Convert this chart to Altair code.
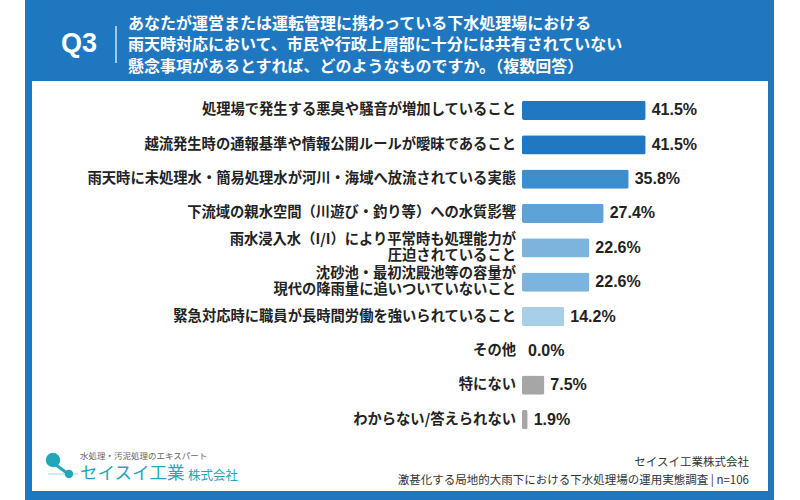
import altair as alt
import pandas as pd

# Survey answers (multiple choice, n=106)
categories = [
    "処理場で発生する悪臭や騒音が増加していること",
    "越流発生時の通報基準や情報公開ルールが曖昧であること",
    "雨天時に未処理水・簡易処理水が河川・海域へ放流されている実態",
    "下流域の親水空間（川遊び・釣り等）への水質影響",
    "雨水浸入水（I/I）により平常時も処理能力が圧迫されていること",
    "沈砂池・最初沈殿池等の容量が現代の降雨量に追いついていないこと",
    "緊急対応時に職員が長時間労働を強いられていること",
    "その他",
    "特にない",
    "わからない/答えられない",
]
labels = [
    "処理場で発生する悪臭や騒音が増加していること",
    "越流発生時の通報基準や情報公開ルールが曖昧であること",
    "雨天時に未処理水・簡易処理水が河川・海域へ放流されている実態",
    "下流域の親水空間（川遊び・釣り等）への水質影響",
    "雨水浸入水（I/I）により平常時も処理能力が\n圧迫されていること",
    "沈砂池・最初沈殿池等の容量が\n現代の降雨量に追いついていないこと",
    "緊急対応時に職員が長時間労働を強いられていること",
    "その他",
    "特にない",
    "わからない/答えられない",
]
values = [41.5, 41.5, 35.8, 27.4, 22.6, 22.6, 14.2, 0.0, 7.5, 1.9]

question = (
    "あなたが運営または運転管理に携わっている下水処理場における\n"
    "雨天時対応において、市民や行政上層部に十分には共有されていない\n"
    "懸念事項があるとすれば、どのようなものですか。（複数回答）"
)
source_company = "セイスイ工業株式会社"
source_survey = "激甚化する局地的大雨下における下水処理場の運用実態調査 | n=106"

# styling
BLUE = "#1f77c0"
TEAL = "#22a6b8"
palette = ["#1f78c1", "#1f78c1", "#3d8ecd", "#5ea3d7", "#7db4de",
           "#7db4de", "#a7cfe8", "#a7cfe8", "#a6a6a6", "#a6a6a6"]
JP = "Noto Sans CJK JP"
LINE_H = 15.5

df = pd.DataFrame({"key": categories, "label": labels, "v": values})
one = alt.Data(values=[{}])

x_scale = alt.Scale(domain=[0, 100], range=[522, 820])
y_scale = alt.Scale(domain=categories, range=[93.3, 436.7],
                    paddingInner=0.44, paddingOuter=0.22)
y_enc = alt.Y("key:N", scale=y_scale, axis=None, sort=categories)

# frame: blue band with a white inner panel
frame = alt.Chart(one).mark_rect(color=BLUE).encode(
    x=alt.value(25), x2=alt.value(774), y=alt.value(0), y2=alt.value(500))
panel = alt.Chart(one).mark_rect(color="white").encode(
    x=alt.value(32), x2=alt.value(768), y=alt.value(81), y2=alt.value(491))

q_mark = alt.Chart(one).mark_text(
    text="Q3", font="Liberation Sans", fontSize=27, fontWeight="bold",
    color="white", align="center", baseline="middle"
).encode(x=alt.value(79), y=alt.value(44))
q_sep = alt.Chart(one).mark_rule(color="white", strokeWidth=1.2).encode(
    x=alt.value(116), y=alt.value(26), y2=alt.value(63))
q_text = alt.Chart(one).mark_text(
    text=question, lineBreak="\n", lineHeight=21.5, font=JP, fontSize=16,
    fontWeight="bold", color="white", align="left", baseline="middle"
).encode(x=alt.value(128), y=alt.value(23.5))

base = alt.Chart(df)
bars = base.mark_bar(cornerRadius=2).encode(
    x=alt.X("v:Q", scale=x_scale, axis=None),
    y=y_enc,
    color=alt.Color("key:N", scale=alt.Scale(domain=categories, range=palette),
                    legend=None),
)

label_style = dict(align="right", baseline="middle", lineBreak="\n",
                   lineHeight=LINE_H, font=JP, fontSize=14.3,
                   fontWeight="bold", color="#222222")
# single-line labels centred on the bar; two-line labels lifted half a line
cat_one = base.transform_filter(
    "indexof(datum.label, '\\n') < 0"
).mark_text(**label_style).encode(x=alt.value(516), y=y_enc, text="label:N")
cat_two = base.transform_filter(
    "indexof(datum.label, '\\n') >= 0"
).mark_text(dy=-LINE_H / 2, **label_style).encode(
    x=alt.value(516), y=y_enc, text="label:N")

val_text = base.transform_calculate(
    txt="format(datum.v, '.1f') + '%'"
).mark_text(
    align="left", baseline="middle", dx=6, font="Liberation Sans",
    fontSize=16, fontWeight="bold", color="#222222"
).encode(
    x=alt.X("v:Q", scale=x_scale, axis=None),
    y=y_enc,
    text="txt:N",
)

# company logo
logo_big = alt.Chart(one).mark_circle(color=TEAL, opacity=1, size=210).encode(
    x=alt.value(53), y=alt.value(460))
logo_link = alt.Chart(one).mark_rule(color=TEAL, strokeWidth=3).encode(
    x=alt.value(56), y=alt.value(465), x2=alt.value(67), y2=alt.value(473))
logo_line = alt.Chart(one).mark_rule(color="#9fd6de", strokeWidth=1).encode(
    x=alt.value(48), x2=alt.value(78), y=alt.value(474))
logo_small = alt.Chart(one).mark_circle(color=TEAL, opacity=1, size=70).encode(
    x=alt.value(69), y=alt.value(474))
logo_tag = alt.Chart(one).mark_text(
    text="水処理・汚泥処理のエキスパート", font=JP, fontSize=8.5,
    color="#666666", align="left", baseline="middle"
).encode(x=alt.value(80), y=alt.value(455.5))
logo_name = alt.Chart(one).mark_text(
    text="セイスイ工業", font=JP, fontSize=17.5, color=TEAL,
    align="left", baseline="middle"
).encode(x=alt.value(80), y=alt.value(474))
logo_corp = alt.Chart(one).mark_text(
    text="株式会社", font=JP, fontSize=12.5, color=TEAL,
    align="left", baseline="middle"
).encode(x=alt.value(188), y=alt.value(476))

src1 = alt.Chart(one).mark_text(
    text=source_company, font=JP, fontSize=11.5, color="#333333",
    align="right", baseline="middle"
).encode(x=alt.value(749), y=alt.value(463))
src2 = alt.Chart(one).mark_text(
    text=source_survey, font=JP, fontSize=11.5, color="#333333",
    align="right", baseline="middle"
).encode(x=alt.value(749), y=alt.value(481))

chart = alt.layer(
    frame, panel, q_mark, q_sep, q_text,
    bars, cat_one, cat_two, val_text,
    logo_line, logo_link, logo_big, logo_small, logo_tag, logo_name, logo_corp,
    src1, src2,
).properties(
    width=800, height=500, padding=0,
    autosize=alt.AutoSizeParams(type="none"),
    background="white",
).configure_view(strokeWidth=0)

chart.save("out.html", embed_options={"renderer": "svg", "actions": False})
